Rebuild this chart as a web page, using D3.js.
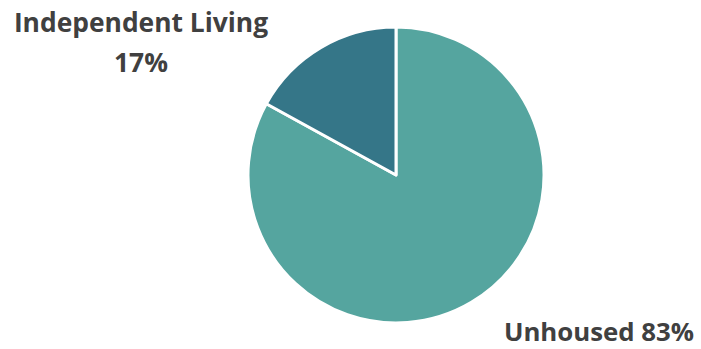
<!DOCTYPE html>
<html>
<head>
<meta charset="utf-8">
<script src="https://cdn.jsdelivr.net/npm/d3@7"></script>
<style>
  body { margin: 0; background: #fff; }
  text { font-family: "Open Sans", sans-serif; font-weight: bold; fill: #404040; }
</style>
</head>
<body>
<svg id="pie" width="701" height="349"></svg>
<script>
// Chart data
var categories = ["Unhoused", "Independent Living"];
var values = [83, 17];
var colors = ["#55a59f", "#357688"];

var svg = d3.select("#pie");
var cx = 396, cy = 175, radius = 148;

var pie = d3.pie().sort(null).value(function(d) { return d; });
var arc = d3.arc().innerRadius(0).outerRadius(radius);

var g = svg.append("g").attr("transform", "translate(" + cx + "," + cy + ")");

g.selectAll("path")
    .data(pie(values))
    .enter()
    .append("path")
    .attr("d", arc)
    .style("fill", function(d, i) { return colors[i]; })
    .style("stroke", "#fff")
    .style("stroke-width", 3)
    .style("stroke-linejoin", "round");

// Labels
svg.append("text")
    .attr("x", 141).attr("y", 32)
    .attr("text-anchor", "middle")
    .style("font-size", "26.4px")
    .text(categories[1]);
svg.append("text")
    .attr("x", 141).attr("y", 72)
    .attr("text-anchor", "middle")
    .style("font-size", "26.4px")
    .text(values[1] + "%");

svg.append("text")
    .attr("x", 599).attr("y", 341)
    .attr("text-anchor", "middle")
    .style("font-size", "25.8px")
    .text(categories[0] + " " + values[0] + "%");
</script>
</body>
</html>
